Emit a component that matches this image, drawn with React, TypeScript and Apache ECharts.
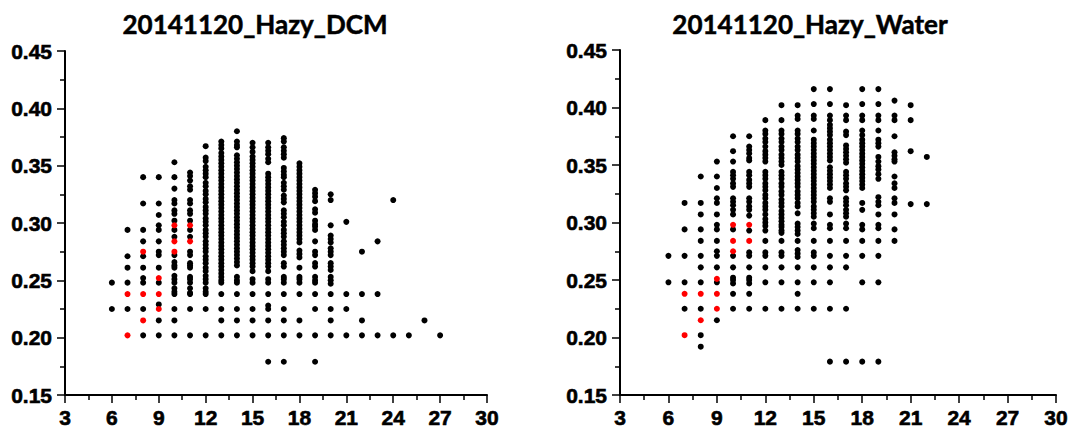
import React, { useEffect, useRef } from "react";
import * as echarts from "echarts";

// ---------- Data: 20141120_Hazy_DCM ----------
const dcmX = [6, 7, 8, 9, 10, 11, 12, 13, 14, 15, 16, 17, 18, 19, 20, 21, 22, 23, 24, 25, 26, 27];
const dcmY: number[][] = [
  [0.248, 0.225],
  [0.294, 0.271, 0.261, 0.248, 0.225],
  [0.340, 0.317, 0.294, 0.284, 0.271, 0.261, 0.252, 0.248, 0.225, 0.202],
  [0.340, 0.317, 0.307, 0.298, 0.294, 0.284, 0.275, 0.272, 0.261, 0.248, 0.229, 0.215, 0.202],
  [0.353, 0.340, 0.330, 0.320, 0.317, 0.311, 0.308, 0.302, 0.294, 0.288, 0.272, 0.266, 0.263, 0.261, 0.254, 0.251, 0.248, 0.243, 0.240, 0.238, 0.225, 0.215, 0.202],
  [0.344, 0.341, 0.337, 0.332, 0.329, 0.320, 0.317, 0.311, 0.308, 0.302, 0.294, 0.288, 0.275, 0.272, 0.265, 0.263, 0.261, 0.253, 0.251, 0.248, 0.243, 0.239, 0.238, 0.225, 0.202],
  [0.367, 0.357, 0.354, 0.349, 0.346, 0.343, 0.340, 0.335, 0.332, 0.328, 0.325, 0.321, 0.318, 0.314, 0.311, 0.308, 0.304, 0.301, 0.298, 0.294, 0.291, 0.288, 0.284, 0.281, 0.278, 0.275, 0.271, 0.268, 0.265, 0.261, 0.258, 0.254, 0.251, 0.248, 0.243, 0.240, 0.238, 0.225, 0.202],
  [0.371, 0.368, 0.365, 0.361, 0.358, 0.355, 0.352, 0.349, 0.346, 0.343, 0.340, 0.337, 0.334, 0.331, 0.328, 0.325, 0.322, 0.319, 0.316, 0.313, 0.310, 0.307, 0.304, 0.301, 0.298, 0.295, 0.292, 0.289, 0.286, 0.283, 0.280, 0.277, 0.274, 0.271, 0.268, 0.265, 0.262, 0.259, 0.256, 0.253, 0.250, 0.248, 0.238, 0.225, 0.215, 0.202],
  [0.380, 0.371, 0.368, 0.366, 0.359, 0.356, 0.353, 0.350, 0.347, 0.344, 0.341, 0.338, 0.335, 0.332, 0.329, 0.326, 0.323, 0.320, 0.317, 0.314, 0.311, 0.308, 0.305, 0.302, 0.299, 0.296, 0.293, 0.290, 0.287, 0.284, 0.281, 0.278, 0.275, 0.272, 0.269, 0.266, 0.263, 0.253, 0.250, 0.248, 0.238, 0.225, 0.215, 0.202],
  [0.370, 0.366, 0.362, 0.358, 0.355, 0.352, 0.349, 0.346, 0.343, 0.340, 0.337, 0.334, 0.331, 0.328, 0.325, 0.322, 0.319, 0.316, 0.313, 0.310, 0.307, 0.304, 0.301, 0.298, 0.295, 0.292, 0.289, 0.286, 0.283, 0.280, 0.277, 0.274, 0.271, 0.268, 0.265, 0.262, 0.258, 0.251, 0.248, 0.238, 0.225, 0.215, 0.202],
  [0.370, 0.366, 0.363, 0.360, 0.356, 0.353, 0.343, 0.340, 0.337, 0.334, 0.331, 0.328, 0.325, 0.322, 0.319, 0.316, 0.313, 0.310, 0.307, 0.304, 0.301, 0.298, 0.295, 0.292, 0.289, 0.286, 0.283, 0.280, 0.277, 0.274, 0.271, 0.268, 0.265, 0.262, 0.258, 0.251, 0.248, 0.238, 0.228, 0.225, 0.215, 0.202, 0.179],
  [0.374, 0.371, 0.366, 0.363, 0.360, 0.357, 0.348, 0.345, 0.342, 0.340, 0.335, 0.332, 0.329, 0.324, 0.321, 0.318, 0.311, 0.308, 0.305, 0.301, 0.298, 0.294, 0.291, 0.288, 0.284, 0.281, 0.278, 0.275, 0.272, 0.265, 0.262, 0.253, 0.251, 0.248, 0.238, 0.225, 0.215, 0.202, 0.179],
  [0.352, 0.349, 0.346, 0.343, 0.340, 0.337, 0.334, 0.331, 0.328, 0.325, 0.322, 0.319, 0.316, 0.313, 0.310, 0.307, 0.304, 0.301, 0.298, 0.295, 0.292, 0.289, 0.286, 0.283, 0.276, 0.273, 0.270, 0.261, 0.253, 0.251, 0.248, 0.238, 0.215, 0.202],
  [0.329, 0.326, 0.323, 0.319, 0.312, 0.309, 0.302, 0.299, 0.297, 0.294, 0.284, 0.275, 0.272, 0.265, 0.262, 0.253, 0.250, 0.248, 0.238, 0.225, 0.202, 0.179],
  [0.325, 0.320, 0.298, 0.289, 0.286, 0.283, 0.278, 0.275, 0.272, 0.265, 0.262, 0.259, 0.253, 0.250, 0.247, 0.238, 0.225, 0.215, 0.202],
  [0.301, 0.238, 0.225, 0.202],
  [0.275, 0.238, 0.215, 0.202],
  [0.284, 0.238, 0.202],
  [0.320, 0.202],
  [0.202],
  [0.215],
  [0.202],
];
const dcmRedX = [7, 7, 8, 8, 8, 9, 9, 9, 10, 10, 10, 11, 11];
const dcmRedY = [0.238, 0.202, 0.275, 0.238, 0.215, 0.252, 0.238, 0.225, 0.298, 0.284, 0.275, 0.298, 0.284];

// ---------- Data: 20141120_Hazy_Water ----------
const waterX = [6, 7, 8, 9, 10, 11, 12, 13, 14, 15, 16, 17, 18, 19, 20, 21, 22];
const waterY: number[][] = [
  [0.271, 0.248],
  [0.317, 0.294, 0.271, 0.248, 0.225],
  [0.340, 0.317, 0.307, 0.294, 0.284, 0.271, 0.261, 0.248, 0.225, 0.202, 0.192],
  [0.353, 0.340, 0.330, 0.321, 0.317, 0.307, 0.298, 0.294, 0.284, 0.275, 0.271, 0.261, 0.248, 0.215],
  [0.375, 0.362, 0.353, 0.344, 0.341, 0.338, 0.334, 0.331, 0.321, 0.318, 0.315, 0.311, 0.307, 0.294, 0.271, 0.261, 0.252, 0.250, 0.247, 0.238, 0.225],
  [0.375, 0.366, 0.363, 0.360, 0.356, 0.354, 0.344, 0.341, 0.337, 0.334, 0.331, 0.321, 0.318, 0.314, 0.311, 0.306, 0.293, 0.274, 0.271, 0.261, 0.252, 0.250, 0.247, 0.238, 0.225],
  [0.389, 0.380, 0.377, 0.373, 0.370, 0.366, 0.362, 0.359, 0.356, 0.353, 0.344, 0.341, 0.338, 0.334, 0.331, 0.328, 0.324, 0.321, 0.317, 0.314, 0.311, 0.307, 0.303, 0.300, 0.297, 0.293, 0.284, 0.274, 0.271, 0.261, 0.248, 0.225],
  [0.402, 0.389, 0.380, 0.377, 0.373, 0.370, 0.366, 0.363, 0.359, 0.356, 0.353, 0.350, 0.344, 0.341, 0.338, 0.334, 0.331, 0.327, 0.324, 0.320, 0.317, 0.314, 0.310, 0.307, 0.304, 0.301, 0.298, 0.296, 0.293, 0.291, 0.284, 0.274, 0.271, 0.261, 0.248, 0.225],
  [0.402, 0.393, 0.390, 0.380, 0.377, 0.373, 0.370, 0.366, 0.363, 0.359, 0.356, 0.353, 0.349, 0.346, 0.343, 0.340, 0.337, 0.334, 0.331, 0.327, 0.324, 0.321, 0.317, 0.314, 0.308, 0.299, 0.296, 0.293, 0.290, 0.284, 0.276, 0.273, 0.270, 0.261, 0.248, 0.238, 0.225],
  [0.416, 0.403, 0.393, 0.390, 0.380, 0.372, 0.369, 0.366, 0.363, 0.360, 0.357, 0.354, 0.351, 0.348, 0.345, 0.342, 0.339, 0.336, 0.333, 0.330, 0.327, 0.324, 0.321, 0.318, 0.314, 0.311, 0.308, 0.305, 0.299, 0.295, 0.284, 0.274, 0.271, 0.261, 0.248, 0.225],
  [0.416, 0.403, 0.393, 0.389, 0.385, 0.382, 0.379, 0.376, 0.372, 0.369, 0.366, 0.363, 0.360, 0.357, 0.354, 0.348, 0.345, 0.342, 0.339, 0.336, 0.333, 0.330, 0.321, 0.318, 0.307, 0.298, 0.295, 0.284, 0.271, 0.261, 0.248, 0.225, 0.179],
  [0.402, 0.393, 0.389, 0.379, 0.376, 0.367, 0.364, 0.361, 0.358, 0.355, 0.352, 0.344, 0.341, 0.338, 0.334, 0.331, 0.328, 0.321, 0.318, 0.315, 0.311, 0.308, 0.305, 0.299, 0.295, 0.284, 0.271, 0.261, 0.225, 0.179],
  [0.416, 0.403, 0.393, 0.389, 0.380, 0.376, 0.372, 0.369, 0.366, 0.363, 0.360, 0.357, 0.354, 0.351, 0.348, 0.345, 0.342, 0.339, 0.336, 0.333, 0.330, 0.317, 0.311, 0.298, 0.294, 0.284, 0.271, 0.248, 0.179],
  [0.416, 0.403, 0.393, 0.389, 0.380, 0.372, 0.369, 0.366, 0.357, 0.353, 0.349, 0.346, 0.342, 0.338, 0.322, 0.318, 0.315, 0.307, 0.298, 0.295, 0.284, 0.271, 0.248, 0.179],
  [0.406, 0.393, 0.389, 0.375, 0.361, 0.358, 0.355, 0.353, 0.340, 0.334, 0.330, 0.321, 0.317, 0.307, 0.294, 0.284],
  [0.402, 0.389, 0.362, 0.316],
  [0.357, 0.316],
];
const waterRedX = [7, 7, 8, 8, 9, 9, 9, 10, 10, 10, 11, 11];
const waterRedY = [0.238, 0.202, 0.238, 0.215, 0.251, 0.238, 0.225, 0.298, 0.284, 0.275, 0.298, 0.284];

const titles = ["20141120_Hazy_DCM", "20141120_Hazy_Water"];
const xTicks = { min: 3, max: 30, interval: 3 };
const yTicks = { min: 0.15, max: 0.45, interval: 0.05 };

function columnsToPairs(xs: number[], ys: number[][]): number[][] {
  const out: number[][] = [];
  xs.forEach((x, i) => ys[i].forEach((y) => out.push([x, y])));
  return out;
}
function zipPairs(xs: number[], ys: number[]): number[][] {
  return xs.map((x, i) => [x, ys[i]]);
}

const labelFont = {
  color: "#000",
  fontFamily: "Liberation Sans",
  fontWeight: "bold" as const,
  fontSize: 21,
  textBorderColor: "#000",
  textBorderWidth: 0.6,
};
const lineBlack = { color: "#000", width: 2 };
const tickBlack = { color: "#000", width: 1.5 };

function makeX(gridIndex: number) {
  return {
    type: "value",
    gridIndex,
    min: xTicks.min,
    max: xTicks.max,
    interval: xTicks.interval,
    axisLine: { show: true, onZero: false, lineStyle: lineBlack },
    axisTick: { show: true, length: 8, lineStyle: tickBlack },
    minorTick: { show: true, splitNumber: 2, length: 5, lineStyle: tickBlack },
    splitLine: { show: false },
    axisLabel: { ...labelFont, margin: 12 },
  };
}
function makeY(gridIndex: number) {
  return {
    type: "value",
    gridIndex,
    min: yTicks.min,
    max: yTicks.max,
    interval: yTicks.interval,
    axisLine: { show: true, onZero: false, lineStyle: lineBlack },
    axisTick: { show: true, length: 8, lineStyle: tickBlack },
    minorTick: { show: true, splitNumber: 2, length: 5, lineStyle: tickBlack },
    splitLine: { show: false },
    axisLabel: { ...labelFont, margin: 13, formatter: (v: number) => v.toFixed(2) },
  };
}

export default function App() {
  const ref = useRef<HTMLDivElement>(null);
  useEffect(() => {
    if (!ref.current) return;
    const chart = echarts.init(ref.current, null, { renderer: "svg" });
    const titleStyle = {
      color: "#000",
      fontFamily: "Lato",
      fontWeight: "bold" as const,
      fontSize: 26,
      textBorderColor: "#000",
      textBorderWidth: 0.5,
    };
    const dot = 6;
    chart.setOption({
      animation: false,
      backgroundColor: "#fff",
      title: [
        { text: titles[0], left: 250, top: 6, textAlign: "center", textStyle: titleStyle },
        { text: titles[1], left: 805, top: 6, textAlign: "center", textStyle: titleStyle },
      ],
      grid: [
        { left: 65, top: 51, width: 422, height: 344 },
        { left: 620, top: 50, width: 436, height: 345 },
      ],
      xAxis: [makeX(0), makeX(1)],
      yAxis: [makeY(0), makeY(1)],
      series: [
        {
          type: "scatter",
          xAxisIndex: 0,
          yAxisIndex: 0,
          symbolSize: dot,
          itemStyle: { color: "#000", opacity: 1 },
          data: columnsToPairs(dcmX, dcmY),
        },
        {
          type: "scatter",
          xAxisIndex: 0,
          yAxisIndex: 0,
          symbolSize: dot,
          itemStyle: { color: "#ff0000", opacity: 1 },
          data: zipPairs(dcmRedX, dcmRedY),
        },
        {
          type: "scatter",
          xAxisIndex: 1,
          yAxisIndex: 1,
          symbolSize: dot,
          itemStyle: { color: "#000", opacity: 1 },
          data: columnsToPairs(waterX, waterY),
        },
        {
          type: "scatter",
          xAxisIndex: 1,
          yAxisIndex: 1,
          symbolSize: dot,
          itemStyle: { color: "#ff0000", opacity: 1 },
          data: zipPairs(waterRedX, waterRedY),
        },
      ],
    });
    return () => chart.dispose();
  }, []);
  return (
    <div
      ref={ref}
      style={{ position: "fixed", left: 0, top: 0, width: 1074, height: 430, background: "#fff" }}
    />
  );
}
